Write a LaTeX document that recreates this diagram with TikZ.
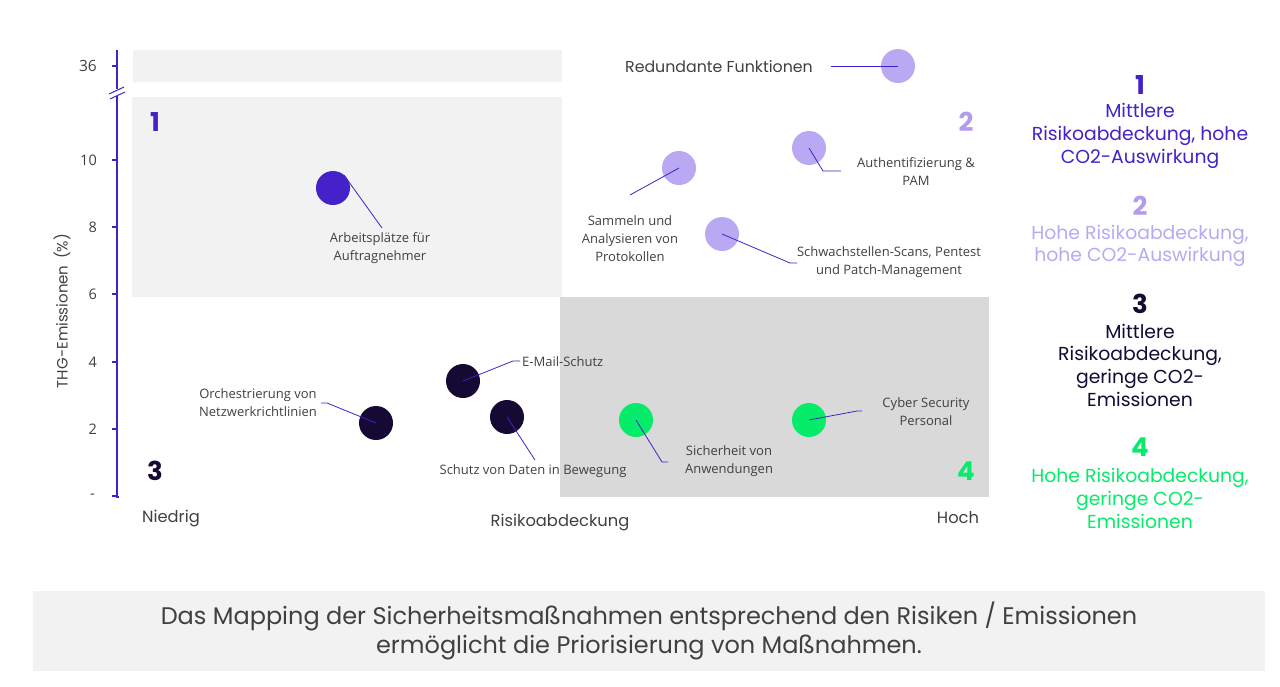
\documentclass[tikz,border=0pt]{standalone}
\usepackage{fontspec}
\setmainfont{Poppins}
\newfontfamily\lab{Open Sans}
\definecolor{cone}{HTML}{4421C8}
\definecolor{ctwo}{HTML}{B9A9F2}
\definecolor{ctwonum}{HTML}{B39CF0}
\definecolor{cthree}{HTML}{140A33}
\definecolor{cfour}{HTML}{05EB6A}
\definecolor{txt}{HTML}{404040}
\definecolor{lgray}{HTML}{F2F2F2}
\definecolor{dgray}{HTML}{D9D9D9}
\tikzset{
  dot/.style={circle,minimum size=34pt,inner sep=0pt,draw=none},
  lead/.style={draw=cone,line width=0.8pt},
  ann/.style={text=txt,align=center,inner sep=0pt,font=\lab\fontsize{13}{18}\selectfont},
  tick/.style={text=txt,inner sep=0pt,font=\lab\fontsize{14.5}{16}\selectfont},
  qnum/.style={inner sep=0pt,font=\bfseries\fontsize{26}{28}\selectfont},
  axl/.style={text=txt,inner sep=0pt,font=\fontsize{16.3}{18}\selectfont},
  leg/.style={align=center,inner sep=0pt,font=\fontsize{18.8}{22.7}\selectfont},
  legnum/.style={inner sep=0pt,font=\bfseries\fontsize{26}{28}\selectfont},
  axis/.style={draw=cone,line width=1.2pt}
}
\begin{document}
\begin{tikzpicture}[x=1pt,y=-1pt]
\useasboundingbox (0,0) rectangle (1280,686);
% background regions
\fill[lgray] (133,50) rectangle (562,82);
\fill[lgray] (132,97) rectangle (562,297);
\fill[dgray] (560,297) rectangle (989,497);
% y axis
\coordinate (ya) at (117,50);
\coordinate (yb) at (117,89);
\coordinate (yc) at (117,96);
\coordinate (yd) at (117,497);
\draw[axis] (ya) -- (yb);
\draw[axis] (yc) -- (yd) -- (119,497);
\draw[cone,line width=1pt] (109,94) -- (124,87);
\draw[cone,line width=1pt] (110,99) -- (125,92);
\foreach \y in {66,160,227,294,362,429,496} \draw[axis] (112,\y) -- (117,\y);
\node[tick,anchor=east,font=\lab\fontsize{15.5}{16}\selectfont] (t36) at (97,66) {36};
\node[tick,anchor=east] (t10) at (97,160) {10};
\node[tick,anchor=east] (t8) at (97,227) {8};
\node[tick,anchor=east] (t6) at (97,294) {6};
\node[tick,anchor=east] (t4) at (97,362) {4};
\node[tick,anchor=east] (t2) at (97,429) {2};
\node[tick,anchor=east] (t0) at (95,496) {-};
\node[text=txt,rotate=90,inner sep=0pt,font=\fontsize{15}{16}\selectfont] (ytitle) at (62,311) {THG-Emissionen\ \,(\%)};
% axis labels
\node[axl] (lo) at (171,518) {Niedrig};
\node[axl] (mid) at (560,522) {Risikoabdeckung};
\node[axl] (hi) at (958,518) {Hoch};
% quadrant numbers
\node[qnum,text=cone] (q1) at (155,122) {1};
\node[qnum,text=ctwonum] (q2) at (966,122) {2};
\node[qnum,text=cthree] (q3) at (155,471) {3};
\node[qnum,text=cfour] (q4) at (966,471) {4};
% points
\node[dot,fill=cone] (arb) at (333,188) {};
\node[dot,fill=ctwo] (red) at (898,66) {};
\node[dot,fill=ctwo] (sam) at (679,168) {};
\node[dot,fill=ctwo] (aut) at (809,148) {};
\node[dot,fill=ctwo] (sch) at (722,234) {};
\node[dot,fill=cthree] (orc) at (376,423) {};
\node[dot,fill=cthree] (mail) at (463,381) {};
\node[dot,fill=cthree] (dat) at (507,417) {};
\node[dot,fill=cfour] (anw) at (636,420) {};
\node[dot,fill=cfour] (cyb) at (809,420) {};
% leader coordinates
\coordinate (arbE) at (382,228);
\coordinate (redE) at (831,66);
\coordinate (samE) at (630,195);
\coordinate (autK) at (823,171);
\coordinate (autE) at (841,171);
\coordinate (schK) at (790,263);
\coordinate (schE) at (797,263);
\coordinate (orcK) at (327,403);
\coordinate (orcE) at (321,403);
\coordinate (mailK) at (513,361);
\coordinate (mailE) at (520,361);
\coordinate (datE) at (535,460);
\coordinate (anwK) at (662,462);
\coordinate (anwE) at (668,462);
\coordinate (cybK) at (857,411);
\coordinate (cybE) at (862,411);
\draw[lead] (arb.center) ++(-50:17) -- (arbE);
\draw[lead] (red.center) -- (redE);
\draw[lead] (sam.center) -- (samE);
\draw[lead] (aut.center) -- (autK) -- (autE);
\draw[lead] (sch.center) -- (schK) -- (schE);
\draw[lead] (orc.center) -- (orcK) -- (orcE);
\draw[lead] (mail.center) -- (mailK) -- (mailE);
\draw[lead] (dat.center) -- (datE);
\draw[lead] (anw.center) -- (anwK) -- (anwE);
\draw[lead] (cyb.center) -- (cybK) -- (cybE);
% labels
\node[ann] (arbL) at (380,248.5) {Arbeitsplätze für\\Auftragnehmer};
\node[text=txt,inner sep=0pt,anchor=east,font=\fontsize{15.8}{18}\selectfont] (redL) at (813,67) {Redundante Funktionen};
\node[ann] (samL) at (630,239) {Sammeln und\\Analysieren von\\Protokollen};
\node[ann] (autL) at (916,172) {Authentifizierung \&\\PAM};
\node[ann] (schL) at (889,262.5) {Schwachstellen-Scans, Pentest\\und Patch-Management};
\node[ann] (orcL) at (258,403) {Orchestrierung von\\Netzwerkrichtlinien};
\node[ann,anchor=west] (mailL) at (522,362) {E-Mail-Schutz};
\node[ann] (datL) at (533,471) {Schutz von Daten in Bewegung};
\node[ann] (anwL) at (729,461) {Sicherheit von\\Anwendungen};
\node[ann] (cybL) at (926,411.5) {Cyber Security\\Personal};
% legend
\node[legnum,text=cone] (l1) at (1140,85) {1};
\node[leg,text=cone] (l1t) at (1140,136) {Mittlere\\Risikoabdeckung, hohe\\CO2-Auswirkung};
\node[legnum,text=ctwonum] (l2) at (1140,206) {2};
\node[leg,text=ctwo] (l2t) at (1140,246) {Hohe Risikoabdeckung,\\hohe CO2-Auswirkung};
\node[legnum,text=cthree] (l3) at (1140,304) {3};
\node[leg,text=cthree] (l3t) at (1140,365) {Mittlere\\Risikoabdeckung,\\geringe CO2-\\Emissionen};
\node[legnum,text=cfour] (l4) at (1140,447) {4};
\node[leg,text=cfour] (l4t) at (1140,498.5) {Hohe Risikoabdeckung,\\geringe CO2-\\Emissionen};
% bottom box
\fill[lgray] (33,591) rectangle (1265,671);
\node[align=center,text=txt,inner sep=0pt,font=\fontsize{24}{29}\selectfont] (note) at (649,631) {Das Mapping der Sicherheitsmaßnahmen entsprechend den Risiken / Emissionen\\ermöglicht die Priorisierung von Maßnahmen.};
\end{tikzpicture}
\end{document}
